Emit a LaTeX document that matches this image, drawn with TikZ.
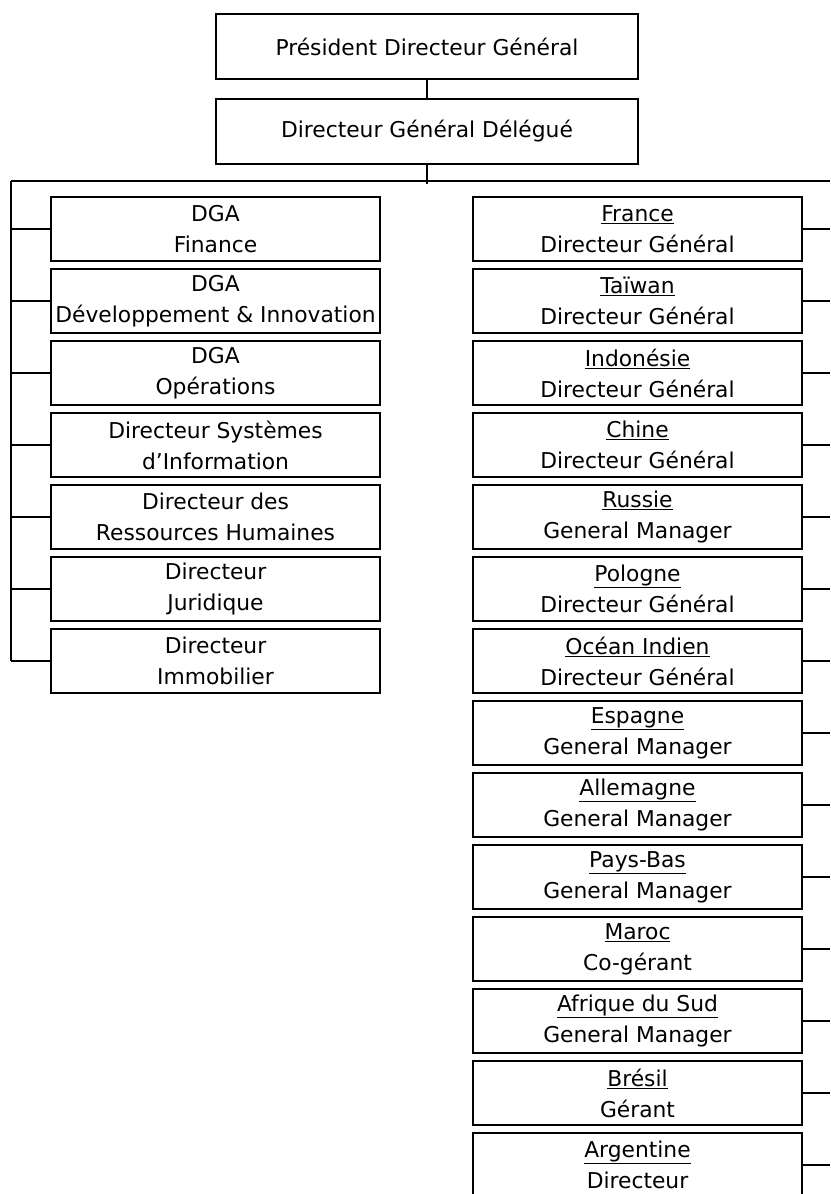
\documentclass[tikz,border=0pt]{standalone}
\usepackage{fontspec}
\setmainfont{DejaVu Sans}
\usetikzlibrary{positioning}

\begin{document}
\begin{tikzpicture}[
  x=1pt, y=1pt,
  node distance=8pt,
  every node/.style={font=\fontsize{21.8}{31}\selectfont},
  post/.style={
    draw, line width=2.2pt,
    minimum width=329pt, minimum height=64pt,
    inner sep=0pt, outer sep=0pt, align=center,
  },
  head/.style={post, minimum width=422pt, minimum height=65pt},
  link/.style={line width=1.4pt},
]
\useasboundingbox (0,0) rectangle (830,-1194);

% Top of the chart
\node[head, anchor=north west] at (216,-14) (pdg) {Président Directeur Général};
\node[head, below=20pt of pdg] (dgd) {Directeur Général Délégué};

% Bus ends
\coordinate (busL) at (11,-181);
\coordinate (busR) at (830,-181);

% Staff column
\node[post, anchor=north west] at (51,-197) (fin) {DGA\\Finance};
\node[post, below=of fin] (dev) {DGA\\Développement \& Innovation};
\node[post, below=of dev] (ops) {DGA\\Opérations};
\node[post, below=of ops] (dsi) {Directeur Systèmes\\d'Information};
\node[post, below=of dsi] (drh) {Directeur des\\Ressources Humaines};
\node[post, below=of drh] (jur) {Directeur\\Juridique};
\node[post, below=of jur] (imm) {Directeur\\Immobilier};

% Country column
\node[post, anchor=north west] at (473,-197) (fra) {\underline{France}\\Directeur Général};
\node[post, below=of fra] (tai) {\underline{Taïwan}\\Directeur Général};
\node[post, below=of tai] (ind) {\underline{Indonésie}\\Directeur Général};
\node[post, below=of ind] (chn) {\underline{Chine}\\Directeur Général};
\node[post, below=of chn] (rus) {\underline{Russie}\\General Manager};
\node[post, below=of rus] (pol) {\underline{Pologne}\\Directeur Général};
\node[post, below=of pol] (oi) {\underline{Océan Indien}\\Directeur Général};
\node[post, below=of oi] (esp) {\underline{Espagne}\\General Manager};
\node[post, below=of esp] (all) {\underline{Allemagne}\\General Manager};
\node[post, below=of all] (pb) {\underline{Pays-Bas}\\General Manager};
\node[post, below=of pb] (mar) {\underline{Maroc}\\Co-gérant};
\node[post, below=of mar] (afs) {\underline{Afrique du Sud}\\General Manager};
\node[post, below=of afs] (bre) {\underline{Brésil}\\Gérant};
\node[post, below=of bre] (arg) {\underline{Argentine}\\Directeur};

% Lines
\draw[link] (pdg.south) -- (dgd.north);
\draw[link] (dgd.south) -- ([yshift=-3pt]dgd.south |- busL);
\draw[link] (busL) -- (busR);
\draw[link] (busL) -- (busL |- imm.west);

\draw[link] (fin.west) -- (fin.west -| busL);
\draw[link] (dev.west) -- (dev.west -| busL);
\draw[link] (ops.west) -- (ops.west -| busL);
\draw[link] (dsi.west) -- (dsi.west -| busL);
\draw[link] (drh.west) -- (drh.west -| busL);
\draw[link] (jur.west) -- (jur.west -| busL);
\draw[link] (imm.west) -- (imm.west -| busL);

\draw[link] (fra.east) -- (fra.east -| busR);
\draw[link] (tai.east) -- (tai.east -| busR);
\draw[link] (ind.east) -- (ind.east -| busR);
\draw[link] (chn.east) -- (chn.east -| busR);
\draw[link] (rus.east) -- (rus.east -| busR);
\draw[link] (pol.east) -- (pol.east -| busR);
\draw[link] (oi.east) -- (oi.east -| busR);
\draw[link] (esp.east) -- (esp.east -| busR);
\draw[link] (all.east) -- (all.east -| busR);
\draw[link] (pb.east) -- (pb.east -| busR);
\draw[link] (mar.east) -- (mar.east -| busR);
\draw[link] (afs.east) -- (afs.east -| busR);
\draw[link] (bre.east) -- (bre.east -| busR);
\draw[link] (arg.east) -- (arg.east -| busR);

\end{tikzpicture}
\end{document}
